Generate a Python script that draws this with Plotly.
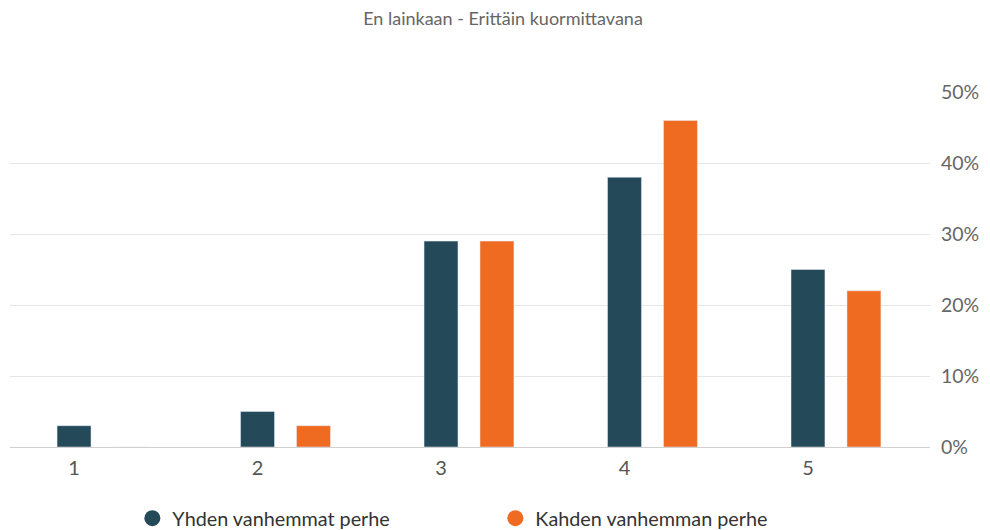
import plotly.graph_objects as go

categories = [1, 2, 3, 4, 5]
tick_labels = ["1", "2", "3", "4", "5"]
series_names = ["Yhden vanhemmat perhe", "Kahden vanhemman perhe"]
yhden = [3, 5, 29, 38, 25]
kahden = [0, 3, 29, 46, 22]
colors = ["#244a5a", "#f06b22"]
title = "En lainkaan - Erittäin kuormittavana"

FONT = "Lato"
bar_w = 0.185

fig = go.Figure()
fig.add_trace(go.Bar(x=categories, y=yhden, width=bar_w, offset=-bar_w / 2,
                     marker_color=colors[0], showlegend=False, hoverinfo="y"))
fig.add_trace(go.Bar(x=categories, y=kahden, width=bar_w, offset=0.305 - bar_w / 2,
                     marker_color=colors[1], showlegend=False, hoverinfo="y"))
for name, c in zip(series_names, colors):
    fig.add_trace(go.Scatter(x=[None], y=[None], mode="markers", name=name,
                             marker=dict(symbol="circle", size=19, color=c)))

fig.update_layout(
    width=990, height=530,
    margin=dict(l=2, r=68, t=84, b=91, autoexpand=False),
    paper_bgcolor="white", plot_bgcolor="white",
    barmode="overlay",
    title=dict(text=title, x=0.5, xanchor="center", y=1 - 11 / 530, yanchor="middle",
               font=dict(family=FONT, size=18, color="#666666"), automargin=False),
    font=dict(family=FONT),
    xaxis=dict(range=[0.651, 5.665], tickmode="array", tickvals=categories,
               ticktext=tick_labels, showgrid=False, zeroline=False,
               showline=True, linecolor="#d0d0d0", linewidth=1,
               tickfont=dict(family=FONT, size=20, color="#555555"),
               ticks="", ticklabelstandoff=3, automargin=False),
    yaxis=dict(side="right", range=[0, 50], dtick=10, ticksuffix="%",
               showgrid=True, gridcolor="#e6e6e6", gridwidth=1, zeroline=False,
               tickfont=dict(family=FONT, size=19.5, color="#666666"),
               ticklabelstandoff=10, automargin=False),
    legend=dict(orientation="h", x=0.133, xanchor="left", y=-0.146, yanchor="top",
                font=dict(family=FONT, size=19.8, color="#333333"),
                entrywidth=318, entrywidthmode="pixels", itemwidth=30),
)

fig.write_html("out.html")
